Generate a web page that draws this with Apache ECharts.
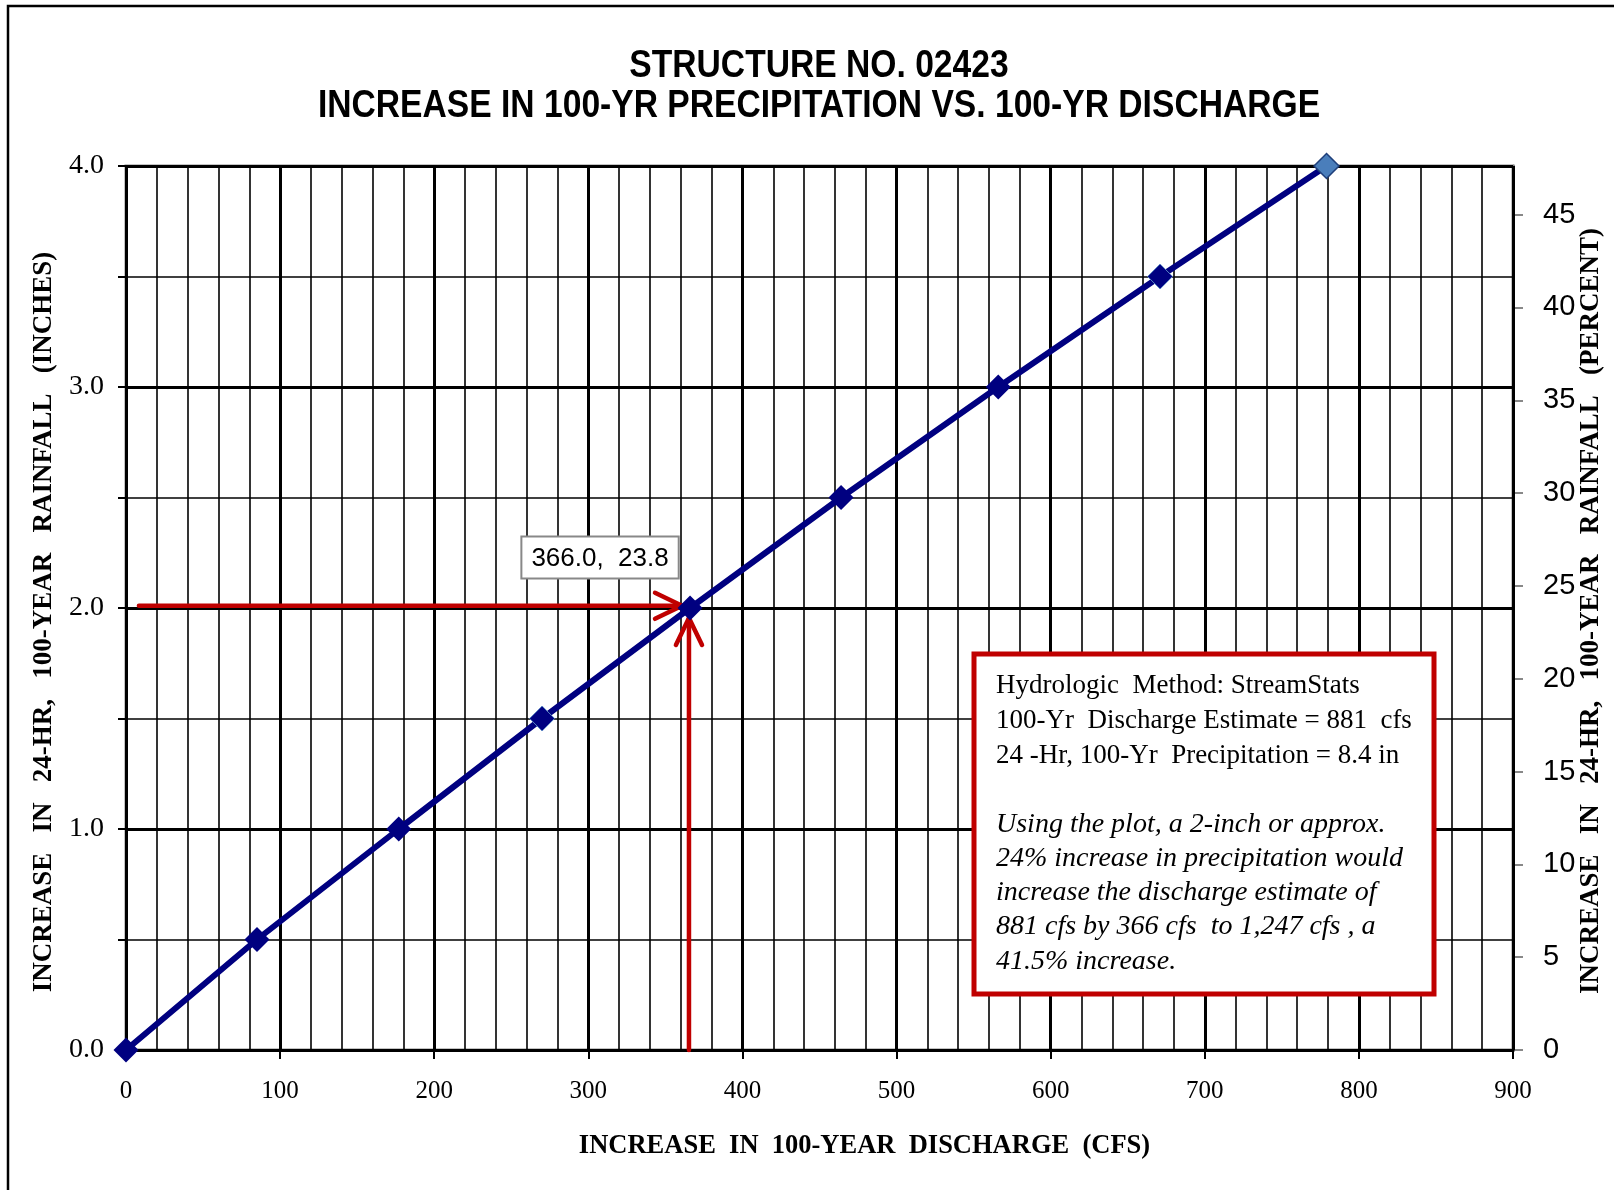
<!DOCTYPE html>
<html>
<head>
<meta charset="utf-8">
<script src="https://cdn.jsdelivr.net/npm/echarts@6/dist/echarts.min.js"></script>
<style>
  html, body { margin: 0; padding: 0; background: #fff; }
  #chart { width: 1614px; height: 1190px; }
</style>
</head>
<body>
<div id="chart"></div>
<script>
// rainfall increase (in) vs discharge increase (cfs)
const rainfallIn = [0, 0.5, 1.0, 1.5, 2.0, 2.5, 3.0, 3.5, 4.0];
const dischargeCfs = [0, 85, 177, 270, 366, 464, 566, 671, 779];
const precipBase = 8.4; // 24-hr, 100-yr precipitation (in)
const pctTicks = [0, 5, 10, 15, 20, 25, 30, 35, 40, 45];
// red reading arrows: [x0, y0, x1, y1]
const arrowH = [8.4, 2.01, 360.8, 2.01];
const arrowV = [365.3, 0, 365.3, 1.955];
const pointLabel = '366.0,  23.8';

const SERIF = "'Liberation Serif', 'Times New Roman', serif";
const SANS = "'Liberation Sans', Arial, sans-serif";

const chart = echarts.init(document.getElementById('chart'));

const lineData = dischargeCfs.map((x, i) => {
    const item = {value: [x, rainfallIn[i]]};
    if (i === rainfallIn.length - 1) {
        item.itemStyle = {color: '#4a7ebb', borderColor: '#1f3f7a', borderWidth: 1.5};
    } else if (rainfallIn[i] === 1.5 || rainfallIn[i] === 3.5) {
        item.itemStyle = {borderColor: '#5b86c4', borderWidth: 1};
    }
    if (rainfallIn[i] === 2.0) {
        item.label = {
            show: true,
            position: 'top',
            offset: [-90, -13],
            formatter: pointLabel,
            fontFamily: SANS,
            fontSize: 26,
            color: '#000',
            backgroundColor: '#fff',
            borderColor: '#888',
            borderWidth: 2,
            padding: [8, 9, 6, 9]
        };
    }
    return item;
});

const option = {
    backgroundColor: '#fff',
    animation: false,
    grid: {
        left: 126, right: 101, top: 166, bottom: 140,
        outerBoundsMode: 'none',
        containLabel: false,
        show: true, borderColor: '#888', borderWidth: 3
    },
    xAxis: [
        {
            type: 'value', min: 0, max: 900, interval: 100, position: 'bottom',
            name: 'INCREASE  IN  100-YEAR  DISCHARGE  (CFS)',
            nameLocation: 'middle', nameGap: 83,
            nameTextStyle: {fontFamily: SERIF, fontWeight: 'bold', fontSize: 26.5, color: '#000', padding: [0, 0, 0, 90]},
            axisLine: {lineStyle: {color: '#000', width: 3}},
            axisTick: {show: true, length: 9, lineStyle: {color: '#000', width: 2}},
            axisLabel: {fontFamily: SERIF, fontSize: 25, color: '#000', margin: 29},
            splitLine: {show: true, lineStyle: {color: '#000', width: 3}},
            z: 3
        },
        {
            type: 'value', min: 0, max: 900, interval: 20, position: 'bottom',
            axisLine: {show: false}, axisTick: {show: false}, axisLabel: {show: false},
            splitLine: {show: true, lineStyle: {color: '#000', width: 1.6}},
            z: 2
        }
    ],
    yAxis: [
        {
            type: 'value', min: 0, max: 4, interval: 1, position: 'left',
            name: 'INCREASE   IN   24-HR,   100-YEAR   RAINFALL   (INCHES)',
            nameLocation: 'middle', nameGap: 68, nameRotate: 90,
            nameTextStyle: {fontFamily: SERIF, fontWeight: 'bold', fontSize: 27, color: '#000', padding: [0, 28, 0, 0]},
            axisLine: {show: true, lineStyle: {color: '#000', width: 2}},
            axisTick: {show: true, length: 8, lineStyle: {color: '#000', width: 2}},
            axisLabel: {fontFamily: SERIF, fontSize: 28, color: '#000', margin: 22, formatter: v => v.toFixed(1)},
            splitLine: {show: true, lineStyle: {color: '#000', width: 3}},
            z: 3
        },
        {
            type: 'value', min: 0, max: 4, interval: 0.5, position: 'left',
            axisLine: {show: false},
            axisTick: {show: true, length: 8, lineStyle: {color: '#000', width: 2}},
            axisLabel: {show: false},
            splitLine: {show: true, lineStyle: {color: '#000', width: 1.6}},
            z: 2
        },
        {
            type: 'value', min: 0, max: 4 / precipBase * 100, position: 'right',
            name: 'INCREASE   IN   24-HR,   100-YEAR   RAINFALL   (PERCENT)',
            nameLocation: 'middle', nameGap: 65, nameRotate: 90,
            nameMoveOverlap: false,
            nameTextStyle: {fontFamily: SERIF, fontWeight: 'bold', fontSize: 27, color: '#000', padding: [0, 6, 0, 0]},
            axisLine: {show: true, lineStyle: {color: '#888', width: 3}},
            axisTick: {show: true, length: 10, customValues: pctTicks, lineStyle: {color: '#888', width: 2}},
            axisLabel: {fontFamily: SANS, fontSize: 29, color: '#000', margin: 30, customValues: pctTicks},
            splitLine: {show: false}
        }
    ],
    series: [
        {
            type: 'custom',
            xAxisIndex: 0, yAxisIndex: 0,
            clip: false,
            z: 4,
            encode: {x: [0, 2], y: [1, 3]},
            data: [arrowH, arrowV],
            renderItem: (params, api) => {
                const p0 = api.coord([api.value(0), api.value(1)]);
                const p1 = api.coord([api.value(2), api.value(3)]);
                const ang = Math.atan2(p1[1] - p0[1], p1[0] - p0[0]);
                const len = 30, spread = 0.45;
                const a1 = [p1[0] - len * Math.cos(ang - spread), p1[1] - len * Math.sin(ang - spread)];
                const a2 = [p1[0] - len * Math.cos(ang + spread), p1[1] - len * Math.sin(ang + spread)];
                const style = {stroke: '#c00000', lineWidth: 4.5, fill: null, lineCap: 'round', lineJoin: 'round'};
                return {
                    type: 'group',
                    children: [
                        {type: 'polyline', shape: {points: [p0, p1]}, style: style},
                        {type: 'polyline', shape: {points: [a1, p1, a2]}, style: style}
                    ]
                };
            }
        },
        {
            type: 'line',
            xAxisIndex: 0, yAxisIndex: 0,
            data: lineData,
            symbol: 'diamond',
            symbolSize: 25,
            showAllSymbol: true,
            clip: false,
            z: 5,
            lineStyle: {color: '#000080', width: 6},
            itemStyle: {color: '#000080'}
        }
    ],
    graphic: [
        {
            type: 'rect', silent: true, z: -1,
            shape: {x: 8, y: 6, width: 1700, height: 1300},
            style: {fill: null, stroke: '#000', lineWidth: 2.5}
        },
        // title (condensed bold, like the original)
        {
            type: 'text', z: 100, x: 819, y: 67, scaleX: 0.885,
            style: {
                text: 'STRUCTURE NO. 02423', font: 'bold 38px ' + SANS,
                fill: '#000', align: 'center', verticalAlign: 'middle'
            }
        },
        {
            type: 'text', z: 100, x: 819, y: 107, scaleX: 0.885,
            style: {
                text: 'INCREASE IN 100-YR PRECIPITATION VS. 100-YR DISCHARGE', font: 'bold 38px ' + SANS,
                fill: '#000', align: 'center', verticalAlign: 'middle'
            }
        },
        // note box
        {
            type: 'rect', z: 100,
            shape: {x: 974, y: 654, width: 460, height: 340},
            style: {fill: '#fff', stroke: '#c00000', lineWidth: 5}
        },
        {
            type: 'text', z: 101, x: 996, y: 668,
            style: {
                text: 'Hydrologic  Method: StreamStats\n100-Yr  Discharge Estimate = 881  cfs\n24 -Hr, 100-Yr  Precipitation = 8.4 in',
                font: '27px ' + SERIF, lineHeight: 35, fill: '#000'
            }
        },
        {
            type: 'text', z: 101, x: 996, y: 807,
            style: {
                text: 'Using the plot, a 2-inch or approx.\n24% increase in precipitation would\nincrease the discharge estimate of\n881 cfs by 366 cfs  to 1,247 cfs , a\n41.5% increase.',
                font: 'italic 28px ' + SERIF, lineHeight: 34.3, fill: '#000'
            }
        }
    ]
};

chart.setOption(option);
</script>
</body>
</html>
